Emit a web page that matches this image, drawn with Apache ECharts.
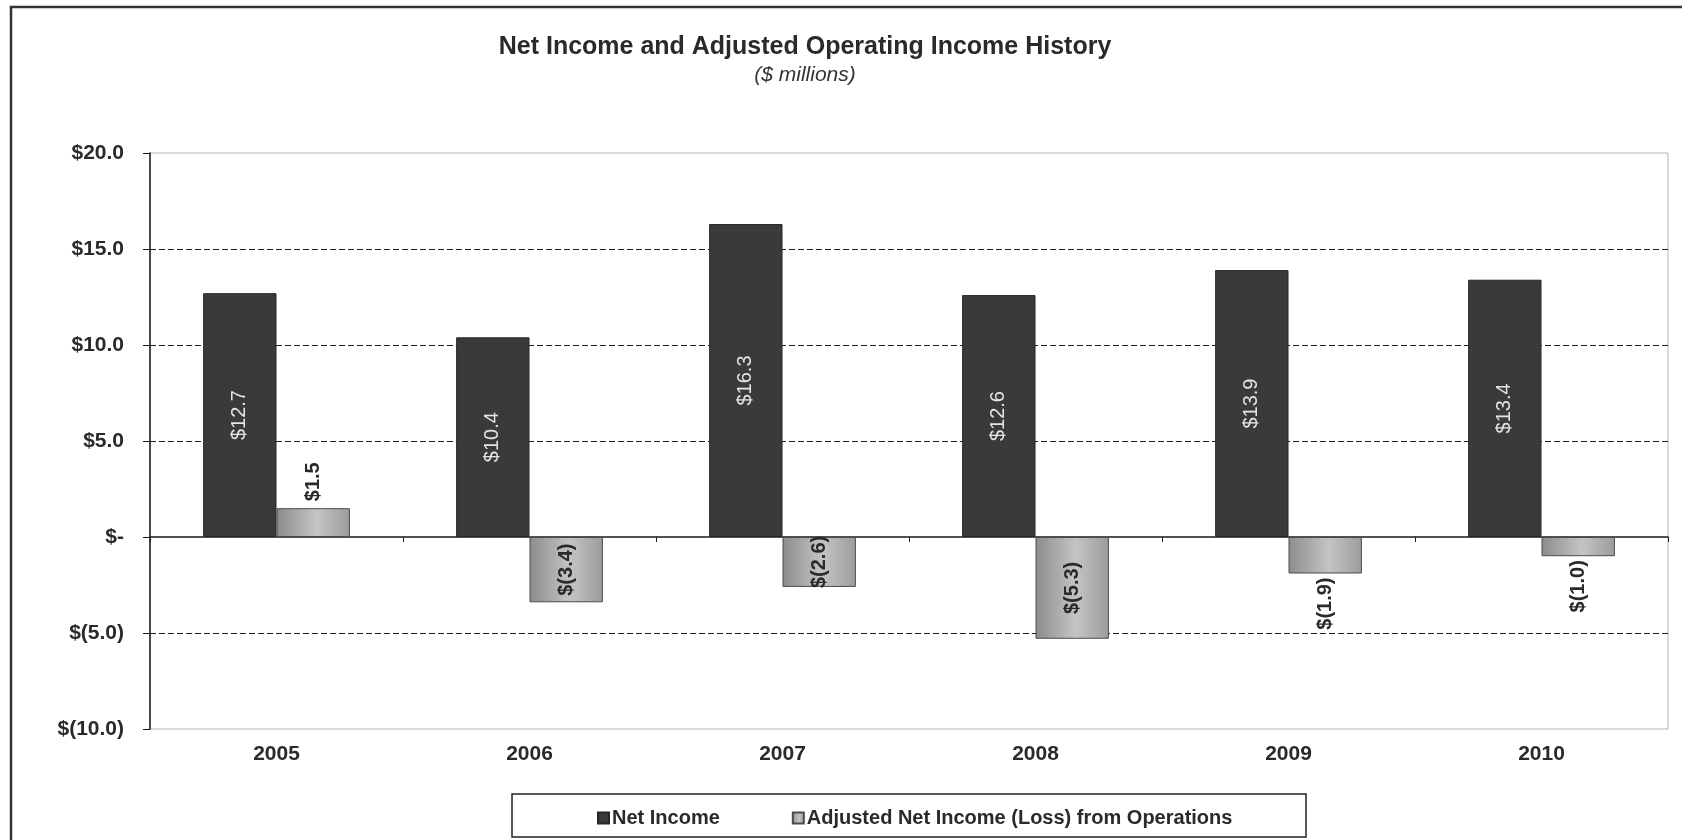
<!DOCTYPE html>
<html>
<head>
<meta charset="utf-8">
<title>Net Income and Adjusted Operating Income History</title>
<script src="https://cdn.jsdelivr.net/npm/echarts@6/dist/echarts.min.js"></script>
<style>
  html, body { margin: 0; padding: 0; background: #ffffff; }
  #chart { width: 1682px; height: 840px; }
</style>
</head>
<body>
<div id="chart"></div>
<script>
// Fiscal years shown on the category axis
const years = ['2005', '2006', '2007', '2008', '2009', '2010'];

// $ millions
const netIncome = [12.7, 10.4, 16.3, 12.6, 13.9, 13.4];
const adjustedNetIncome = [1.5, -3.4, -2.6, -5.3, -1.9, -1.0];

// Value axis range and step ($ millions)
const axisMin = -10;
const axisMax = 20;
const axisStep = 5;

const FONT = '"Liberation Sans", Arial, sans-serif';

// Accounting style: $12.7, $(3.4), $-
function money(v, digits) {
  if (v === 0) return '$-';
  const s = Math.abs(v).toFixed(digits);
  return v < 0 ? '$(' + s + ')' : '$' + s;
}

// Small bars carry their label outside the bar end; larger ones carry it centred inside.
function adjustedLabel(v) {
  const base = {
    show: true,
    rotate: 90,
    verticalAlign: 'middle',
    color: '#2a2a2a',
    fontFamily: FONT,
    fontWeight: 'bold',
    fontSize: 20,
    formatter: (p) => money(p.value, 1)
  };
  if (Math.abs(v) >= 2.5) return Object.assign(base, { position: 'inside', align: 'center' });
  if (v > 0) return Object.assign(base, { position: 'top', align: 'left', distance: 7 });
  return Object.assign(base, { position: 'bottom', align: 'right', distance: 4 });
}

const chart = echarts.init(document.getElementById('chart'), null, { renderer: 'canvas' });

const adjustedFill = {
  type: 'linear', x: 0, y: 0, x2: 1, y2: 0,
  colorStops: [
    { offset: 0, color: '#8c8c8c' },
    { offset: 0.55, color: '#c4c4c4' },
    { offset: 1, color: '#9c9c9c' }
  ]
};

chart.setOption({
  backgroundColor: '#ffffff',
  animation: false,
  title: {
    text: 'Net Income and Adjusted Operating Income History',
    subtext: '($ millions)',
    left: 800,
    top: 30,
    textAlign: 'center',
    itemGap: 5,
    textStyle: { fontFamily: FONT, fontWeight: 'bold', fontSize: 25, color: '#2a2a2a' },
    subtextStyle: { fontFamily: FONT, fontStyle: 'italic', fontSize: 21, color: '#333333' }
  },
  graphic: [
    {
      // outer frame of the chart sheet
      type: 'rect', silent: true,
      shape: { x: 11, y: 7, width: 1700, height: 900 },
      style: { fill: 'none', stroke: '#333333', lineWidth: 2.5 }
    },
    {
      // legend box
      type: 'rect', silent: true,
      shape: { x: 512, y: 794, width: 794, height: 43 },
      style: { fill: '#ffffff', stroke: '#222222', lineWidth: 1.5 }
    }
  ],
  legend: {
    left: 597,
    top: 808,
    itemGap: 72,
    itemWidth: 11,
    itemHeight: 11,
    icon: 'rect',
    padding: 0,
    textStyle: { fontFamily: FONT, fontWeight: 'bold', fontSize: 20, color: '#2a2a2a', padding: [0, 0, 0, -2] },
    data: ['Net Income', 'Adjusted Net Income (Loss) from Operations']
  },
  grid: {
    left: 150,
    right: 14,
    top: 153,
    bottom: 111,
    show: true,
    borderColor: '#b5b5b5',
    borderWidth: 1,
    backgroundColor: '#ffffff'
  },
  xAxis: [
    {
      // category labels along the bottom of the plot
      type: 'category',
      data: years,
      position: 'bottom',
      axisLine: { show: false, onZero: false },
      axisTick: { show: false },
      axisLabel: { margin: 15, fontFamily: FONT, fontWeight: 'bold', fontSize: 21, color: '#2a2a2a' }
    },
    {
      // category axis line crossing at zero
      type: 'category',
      data: years,
      position: 'bottom',
      axisLine: { show: true, onZero: true, lineStyle: { color: '#1a1a1a', width: 1.5 } },
      axisTick: { show: true, inside: false, length: 5, lineStyle: { color: '#1a1a1a' } },
      axisLabel: { show: false },
      splitLine: { show: false }
    }
  ],
  yAxis: {
    type: 'value',
    min: axisMin,
    max: axisMax,
    interval: axisStep,
    axisLine: { show: true, lineStyle: { color: '#1a1a1a', width: 1.5 } },
    axisTick: { show: true, inside: false, length: 7, lineStyle: { color: '#1a1a1a' } },
    axisLabel: {
      margin: 26,
      fontFamily: FONT,
      fontWeight: 'bold',
      fontSize: 21,
      color: '#2a2a2a',
      formatter: (v) => money(v, 1)
    },
    splitLine: {
      show: true,
      lineStyle: {
        type: [6, 3],
        width: 1.2,
        // -10 and 20 sit on the plot border, 0 sits under the axis line
        color: ['rgba(0,0,0,0)', '#1f1f1f', 'rgba(0,0,0,0)', '#1f1f1f', '#1f1f1f', '#1f1f1f', 'rgba(0,0,0,0)']
      }
    }
  },
  series: [
    {
      name: 'Net Income',
      type: 'bar',
      xAxisIndex: 0,
      data: netIncome,
      barWidth: '29%',
      barGap: '0%',
      itemStyle: { color: '#3a3a3a', borderColor: '#262626', borderWidth: 1 },
      label: {
        show: true,
        position: 'inside',
        rotate: 90,
        align: 'center',
        verticalAlign: 'middle',
        color: '#e4e4e4',
        fontFamily: FONT,
        fontSize: 20,
        formatter: (p) => money(p.value, 1)
      }
    },
    {
      name: 'Adjusted Net Income (Loss) from Operations',
      type: 'bar',
      xAxisIndex: 0,
      data: adjustedNetIncome.map((v) => ({ value: v, label: adjustedLabel(v) })),
      barWidth: '29%',
      barGap: '0%',
      itemStyle: { color: adjustedFill, borderColor: '#4a4a4a', borderWidth: 1 }
    }
  ]
});
</script>
</body>
</html>
